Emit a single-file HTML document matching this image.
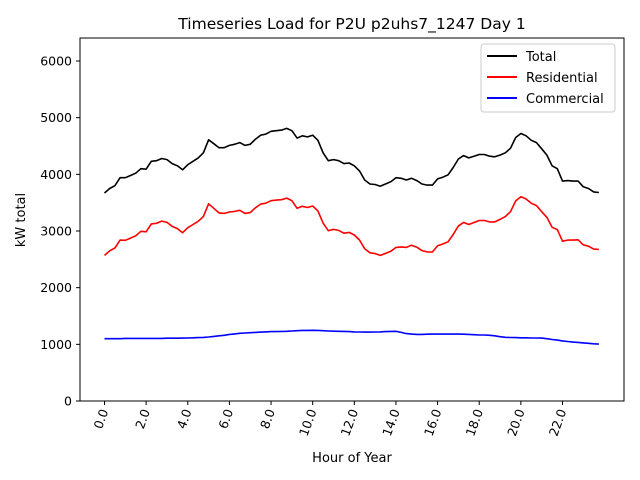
<!DOCTYPE html>
<html><head><meta charset="utf-8"><style>
body{margin:0;background:#fff}
svg{display:block;font-family:"DejaVu Sans","Liberation Sans",sans-serif}
</style></head><body>
<svg id="chart" width="640" height="480" viewBox="0 0 640 480" xmlns="http://www.w3.org/2000/svg">
<rect width="640" height="480" fill="#fff"/>
<text x="352" y="29" text-anchor="middle" font-size="15.5">Timeseries Load for P2U p2uhs7_1247  Day 1</text>
<g id="grid"></g>
<g id="series"></g>
<rect x="80" y="38" width="544" height="363" fill="none" stroke="#000" stroke-width="1"/>
<g id="axes"></g>
<text x="352" y="462" text-anchor="middle" font-size="13">Hour of Year</text>
<text transform="translate(25,220) rotate(-90)" text-anchor="middle" font-size="13">kW total</text>
<g>
<rect x="481" y="44" width="134" height="68" fill="#fff" fill-opacity="0.8" stroke="#ccc" rx="3"/>
<line x1="487" y1="56" x2="517" y2="56" stroke="#000" stroke-width="2"/>
<text x="526" y="61" font-size="13">Total</text>
<line x1="487" y1="77" x2="517" y2="77" stroke="#f00" stroke-width="2"/>
<text x="526" y="82" font-size="13">Residential</text>
<line x1="487" y1="98" x2="517" y2="98" stroke="#00f" stroke-width="2"/>
<text x="526" y="103" font-size="13">Commercial</text>
</g>
</svg>
<script>
const total=[3670,3750,3800,3940,3940,3980,4020,4100,4090,4230,4240,4280,4260,4190,4150,4080,
4170,4230,4290,4380,4610,4540,4470,4470,4510,4530,4560,4510,4530,4620,4690,4710,
4760,4770,4780,4810,4770,4640,4680,4660,4690,4600,4380,4240,4260,4240,4190,4200,
4150,4060,3900,3830,3820,3790,3830,3870,3940,3930,3900,3930,3890,3830,3810,3810,
3920,3950,3990,4120,4270,4330,4290,4320,4350,4350,4320,4310,4340,4380,4460,4650,
4720,4680,4600,4560,4450,4340,4150,4100,3880,3890,3880,3880,3780,3750,3690,3680];
const residential=[2570,2650,2700,2840,2835,2875,2915,2995,2985,3125,3135,3175,3152,3082,3042,2970,
3058,3115,3172,3258,3480,3400,3320,3310,3335,3345,3365,3310,3325,3410,3475,3490,
3535,3545,3552,3580,3535,3400,3435,3415,3442,3355,3140,3005,3028,3010,2962,2975,
2930,2842,2685,2615,2602,2570,2605,2642,2710,2720,2710,2750,2715,2655,2632,2630,
2740,2770,2810,2938,3090,3152,3115,3150,3185,3185,3160,3160,3205,3255,3340,3532,
3605,3565,3488,3448,3340,3240,3065,3025,2820,2840,2840,2845,2755,2732,2680,2675];
const commercial=[1100,1100,1100,1100,1105,1105,1105,1105,1105,1105,1105,1105,1108,1108,1108,1110,
1112,1115,1118,1122,1130,1140,1150,1160,1175,1185,1195,1200,1205,1210,1215,1220,
1225,1225,1228,1230,1235,1240,1245,1245,1248,1245,1240,1235,1232,1230,1228,1225,
1220,1218,1215,1215,1218,1220,1225,1228,1230,1210,1190,1180,1175,1175,1178,1180,
1180,1180,1180,1182,1180,1178,1175,1170,1165,1165,1160,1150,1135,1125,1120,1118,
1115,1115,1112,1112,1110,1100,1085,1075,1060,1050,1040,1035,1025,1018,1010,1005];
const xTicks=[0,2,4,6,8,10,12,14,16,18,20,22];
const xTickLabels=["0.0","2.0","4.0","6.0","8.0","10.0","12.0","14.0","16.0","18.0","20.0","22.0"];
const yTicks=[0,1000,2000,3000,4000,5000,6000];
const step=0.25;

const NS="http://www.w3.org/2000/svg";
function X(h){return 104.5+h*(562.5-104.5)/22;}
function Y(v){return 401-v*(401-61)/6000;}
const axes=document.getElementById('axes'),ser=document.getElementById('series');
function mk(tag,attrs,parent){const e=document.createElementNS(NS,tag);for(const k in attrs)e.setAttribute(k,attrs[k]);parent.appendChild(e);return e;}
xTicks.forEach((t,i)=>{
  const x=X(t);
  const tk=mk('line',{x1:x,y1:401,x2:x,y2:405,stroke:'#000'},axes);
  
  
  const tx=mk('text',{transform:`translate(${x+4},${411}) rotate(-70)`,'text-anchor':'end','font-size':'12.5'},axes);
  tx.textContent=xTickLabels[i];
  
  
});
yTicks.forEach(t=>{
  const y=Y(t);
  const tk=mk('line',{x1:76,y1:y,x2:80,y2:y,stroke:'#000'},axes);
  
  
  const tx=mk('text',{x:72,y:y+4.5,'text-anchor':'end','font-size':'12.5'},axes);
  tx.textContent=String(t);
  
  
});
function line(arr,color,name){
  const d=arr.map((v,i)=>(i?'L':'M')+X(i*step).toFixed(1)+','+Y(v).toFixed(1)).join('');
  const p=mk('path',{d:d,fill:'none',stroke:color,'stroke-width':1.6,'stroke-linejoin':'round'},ser);
  
  
}
line(total,'#000','total-line');
line(residential,'#f00','residential-line');
line(commercial,'#00f','commercial-line');
</script>
</body></html>
